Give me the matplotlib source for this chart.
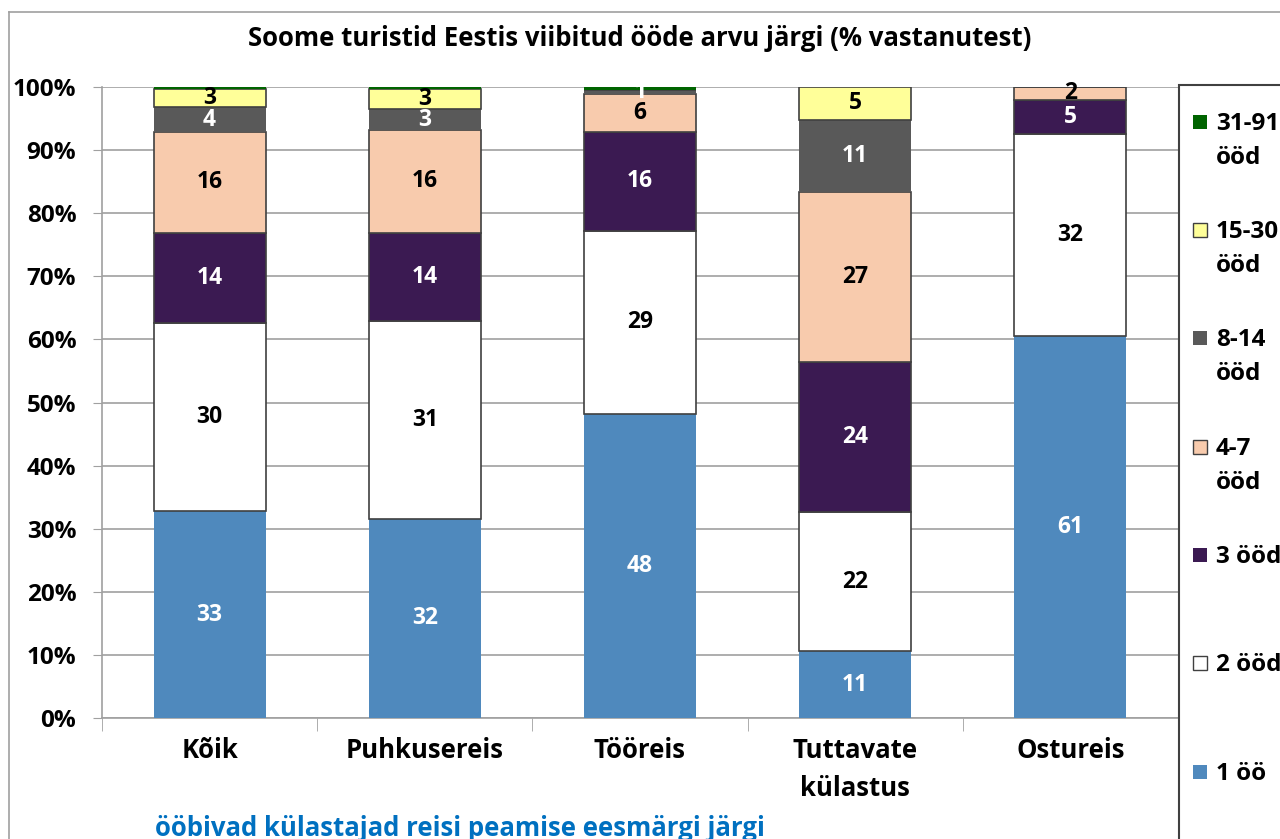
import numpy as np
import matplotlib
matplotlib.use('Agg')
from matplotlib import pyplot as plt
from matplotlib.patches import Rectangle
from matplotlib.lines import Line2D

plt.rcParams['font.family'] = ['Open Sans', 'DejaVu Sans']
plt.rcParams['font.weight'] = 'bold'

# Kategooriad (reisi peamine eesmärk)
categories = ['Kõik', 'Puhkusereis', 'Tööreis', 'Tuttavate\nkülastus', 'Ostureis']

# Seeriad alt üles, % vastanutest
series_names = ['1 öö', '2 ööd', '3 ööd', '4-7\nööd', '8-14\nööd', '15-30\nööd', '31-91\nööd']
one_night = [32.8, 31.6, 48.2, 10.6, 60.6]
two_nights = [29.8, 31.3, 29.0, 22.0, 32.0]
three_nights = [14.3, 14.0, 15.7, 23.8, 5.4]
nights_4_7 = [16.0, 16.3, 6.0, 27.0, 2.0]
nights_8_14 = [3.9, 3.3, 0.6, 11.4, 0.0]
nights_15_30 = [2.9, 3.2, 0.0, 5.2, 0.0]
nights_31_91 = [0.3, 0.3, 0.5, 0.0, 0.0]

values = [one_night, two_nights, three_nights, nights_4_7, nights_8_14, nights_15_30, nights_31_91]
colors = ['#4F89BD', '#FFFFFF', '#3B1A52', '#F8CBAD', '#595959', '#FFFF99', '#006400']
label_colors = ['white', 'black', 'white', 'black', 'white', 'black', 'white']
edge_colors = ['none', '#404040', '#404040', '#404040', 'none', '#404040', 'none']

fig = plt.figure(figsize=(12.8, 8.39), dpi=100)
ax = fig.add_axes([0.0797, 0.1442, 0.9203 - 0.0797, 0.8963 - 0.1442])

x = np.arange(len(categories))
bottom = np.zeros(len(categories))
for vals, col, lcol, ecol in zip(values, colors, label_colors, edge_colors):
    vals = np.array(vals)
    ax.bar(x, vals, width=0.52, bottom=bottom, color=col, edgecolor=ecol, linewidth=1.2, zorder=3)
    for xi, b, v in zip(x, bottom, vals):
        if round(v) >= 1:
            ax.text(xi, b + v / 2, f'{round(v):d}', ha='center', va='center',
                    color=lcol, fontsize=16.5, fontweight='bold', zorder=4)
    bottom += vals

ax.set_xlim(-0.5, len(categories) - 0.5)
ax.set_ylim(0, 100)
ax.set_yticks(np.arange(0, 101, 10))
ax.set_yticklabels([f'{v}%' for v in range(0, 101, 10)], fontsize=17.5, fontweight='bold')
ax.set_xticks(x)
ax.set_xticklabels(categories, fontsize=18.5, fontweight='bold', linespacing=1.5)
ax.tick_params(axis='x', length=0, pad=14)
ax.tick_params(axis='y', length=6.5, color='#A0A0A0', pad=12)
ax.set_xticks(np.arange(-0.5, len(categories), 1), minor=True)
ax.tick_params(axis='x', which='minor', length=9, color='#A0A0A0', direction='out')
ax.yaxis.grid(True, color='#A0A0A0', linewidth=1.2, zorder=0)
for s in ['top', 'right']:
    ax.spines[s].set_visible(False)
for s in ['left', 'bottom']:
    ax.spines[s].set_color('#A0A0A0')
    ax.spines[s].set_linewidth(1.2)

# Pealkiri
fig.text(0.5, 1 - 38 / 839, 'Soome turistid Eestis viibitud ööde arvu järgi (% vastanutest)',
         ha='center', va='center', fontsize=18.5, fontweight='bold')

# Alltekst
fig.text(155 / 1280, 1 - 829 / 839, 'ööbivad külastajad reisi peamise eesmärgi järgi',
         ha='left', va='center', fontsize=18.5, fontweight='bold', color='#0070C0')

# Diagrammi raam
fig.add_artist(Line2D([9 / 1280, 9 / 1280], [0, 1 - 12 / 839], transform=fig.transFigure, color='#A0A0A0', lw=1.2))
fig.add_artist(Line2D([9 / 1280, 1], [1 - 12 / 839, 1 - 12 / 839], transform=fig.transFigure, color='#A0A0A0', lw=1.2))

# Legend (käsitsi, paremal äärel)
fig.add_artist(Rectangle((1179 / 1280, -0.01), 0.2, 1 - 85 / 839 + 0.01, transform=fig.transFigure,
                         facecolor='white', edgecolor='#404040', lw=1.5, zorder=5))
legend_y = [772, 663, 555, 447, 338, 230, 122]
for name, col, ly in zip(series_names, colors, legend_y):
    fig.add_artist(Rectangle((1193 / 1280, 1 - (ly + 7) / 839), 14 / 1280, 14 / 839,
                             transform=fig.transFigure, facecolor=col, edgecolor='#404040' if col in ('#FFFFFF', '#FFFF99', '#F8CBAD') else 'none',
                             lw=1, zorder=6))
    fig.text(1216 / 1280, 1 - (ly - 10) / 839, name, ha='left', va='top', fontsize=17.5,
             fontweight='bold', linespacing=1.55, zorder=7)

plt.savefig('out.png', dpi=100)
